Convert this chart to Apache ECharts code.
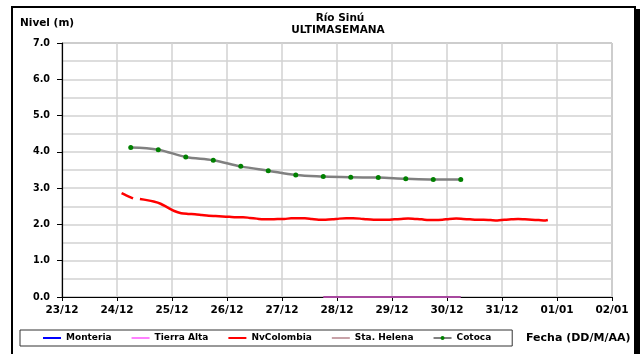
<!DOCTYPE html>
<html>
<head>
<meta charset="utf-8">
<title>Río Sinú - Nivel</title>
<script src="https://cdn.jsdelivr.net/npm/echarts@6/dist/echarts.min.js"></script>
<style>
  html, body { margin: 0; padding: 0; background: #fff; }
  #chart { width: 642px; height: 354px; }
</style>
</head>
<body>
<div id="chart"></div>
<script>
// Day labels along the time axis (one tick per day, 23/12 .. 02/01)
var xTickLabels = ['23/12', '24/12', '25/12', '26/12', '27/12', '28/12', '29/12', '30/12', '31/12', '01/01', '02/01'];
var yTickLabels = ['0.0', '1.0', '2.0', '3.0', '4.0', '5.0', '6.0', '7.0'];

var seriesNames = ['Monteria', 'Tierra Alta', 'NvColombia', 'Sta. Helena', 'Cotoca'];

// Station readings: times as "DD/MM HH:MM", levels in metres (null = missing reading)
var monteriaTimes = [];
var monteriaLevels = [];

var tierraAltaTimes = ['27/12 18:00', '28/12 06:00', '28/12 18:00', '29/12 06:00', '29/12 18:00', '30/12 06:00'];
var tierraAltaLevels = [0, 0, 0, 0, 0, 0];

var nvColombiaTimes = [
  '24/12 02:00', '24/12 04:00', '24/12 07:00', '24/12 08:00', '24/12 10:00', '24/12 13:00', '24/12 16:00', '24/12 19:00', '24/12 22:00',
  '25/12 01:00', '25/12 04:00', '25/12 07:00', '25/12 10:00', '25/12 13:00', '25/12 16:00', '25/12 19:00', '25/12 22:00',
  '26/12 01:00', '26/12 04:00', '26/12 07:00', '26/12 10:00', '26/12 13:00', '26/12 16:00', '26/12 19:00', '26/12 22:00',
  '27/12 01:00', '27/12 04:00', '27/12 07:00', '27/12 10:00', '27/12 13:00', '27/12 16:00', '27/12 19:00', '27/12 22:00',
  '28/12 01:00', '28/12 04:00', '28/12 07:00', '28/12 10:00', '28/12 13:00', '28/12 16:00', '28/12 19:00', '28/12 22:00',
  '29/12 01:00', '29/12 04:00', '29/12 07:00', '29/12 10:00', '29/12 13:00', '29/12 16:00', '29/12 19:00', '29/12 22:00',
  '30/12 01:00', '30/12 04:00', '30/12 07:00', '30/12 10:00', '30/12 13:00', '30/12 16:00', '30/12 19:00', '30/12 22:00',
  '31/12 01:00', '31/12 04:00', '31/12 07:00', '31/12 10:00', '31/12 13:00', '31/12 16:00', '31/12 19:00', '31/12 20:00'
];
var nvColombiaLevels = [
  2.86, 2.80, 2.72, null, 2.70, 2.67, 2.63, 2.57, 2.47,
  2.37, 2.31, 2.29, 2.28, 2.26, 2.24, 2.23, 2.22,
  2.21, 2.20, 2.20, 2.18, 2.16, 2.14, 2.14, 2.15,
  2.15, 2.17, 2.17, 2.17, 2.15, 2.13, 2.13, 2.14,
  2.16, 2.17, 2.17, 2.16, 2.14, 2.13, 2.13, 2.13,
  2.14, 2.15, 2.16, 2.15, 2.14, 2.12, 2.12, 2.13,
  2.15, 2.16, 2.15, 2.14, 2.13, 2.13, 2.12, 2.11,
  2.13, 2.14, 2.15, 2.14, 2.13, 2.12, 2.11, 2.12
];

var staHelenaTimes = [];
var staHelenaLevels = [];

var cotocaTimes = [
  '24/12 06:00', '24/12 18:00', '25/12 06:00', '25/12 18:00', '26/12 06:00', '26/12 18:00', '27/12 06:00',
  '27/12 18:00', '28/12 06:00', '28/12 18:00', '29/12 06:00', '29/12 18:00', '30/12 06:00'
];
var cotocaLevels = [4.12, 4.06, 3.86, 3.77, 3.60, 3.48, 3.36, 3.32, 3.30, 3.29, 3.26, 3.24, 3.24];

// Days elapsed since 23/12 00:00 for a "DD/MM HH:MM" stamp
function dayOffset(stamp) {
  var parts = stamp.split(' ');
  var dm = parts[0].split('/');
  var hm = parts[1].split(':');
  var day = parseInt(dm[0], 10);
  var month = parseInt(dm[1], 10);
  var days = month === 12 ? day - 23 : (31 - 23) + day;
  return days + (parseInt(hm[0], 10) + parseInt(hm[1], 10) / 60) / 24;
}

function pairs(times, levels) {
  return times.map(function (t, i) { return [dayOffset(t), levels[i]]; });
}

var FONT = '"DejaVu Sans", sans-serif';
// legend entries for plain lines: hide the marker, keep only the stroke
var NO_MARK = { color: 'rgba(0,0,0,0)', borderColor: 'rgba(0,0,0,0)', borderWidth: 0 };

var chart = echarts.init(document.getElementById('chart'), null, { renderer: 'canvas' });

chart.setOption({
  animation: false,
  backgroundColor: '#ffffff',
  textStyle: { fontFamily: FONT },
  grid: {
    left: 62, right: 30, top: 43, bottom: 57,
    show: true, borderColor: '#808080', borderWidth: 1
  },
  xAxis: {
    type: 'value',
    min: 0, max: xTickLabels.length - 1, interval: 1,
    axisLine: { onZero: false, lineStyle: { color: '#000', width: 1.2 } },
    axisTick: { show: true, length: 4, lineStyle: { color: '#000' } },
    axisLabel: {
      margin: 8,
      fontFamily: FONT, fontWeight: 'bold', fontSize: 10.5, color: '#000',
      formatter: function (v) { return xTickLabels[Math.round(v)] || ''; }
    },
    splitLine: { show: true, lineStyle: { color: '#d2d2d2', width: 1.5 } }
  },
  yAxis: {
    type: 'value',
    min: 0, max: yTickLabels.length - 1, interval: 1,
    axisLine: { show: true, lineStyle: { color: '#000', width: 1.2 } },
    axisTick: { show: true, length: 5, lineStyle: { color: '#000' } },
    axisLabel: {
      margin: 12,
      fontFamily: FONT, fontWeight: 'bold', fontSize: 9.6, color: '#000',
      formatter: function (v) { return yTickLabels[Math.round(v)] || ''; }
    },
    splitLine: { show: true, lineStyle: { color: '#d2d2d2', width: 1.5 } },
    minorTick: { show: false, splitNumber: 2 },
    minorSplitLine: { show: true, lineStyle: { color: '#d2d2d2', width: 1.5 } }
  },
  legend: {
    left: 20, top: 330,
    padding: [2.5, 21, 2.5, 22],
    itemGap: 19,
    itemWidth: 18, itemHeight: 5,
    borderColor: '#333', borderWidth: 1,
    textStyle: { fontFamily: FONT, fontWeight: 'bold', fontSize: 9, color: '#000', lineHeight: 11 },
    data: [
      { name: 'Monteria', itemStyle: NO_MARK },
      { name: 'Tierra Alta', lineStyle: { color: '#ff80ff' }, itemStyle: NO_MARK },
      { name: 'NvColombia', itemStyle: NO_MARK },
      { name: 'Sta. Helena', itemStyle: NO_MARK },
      { name: 'Cotoca' }
    ]
  },
  graphic: [
    // outer frame of the chart area
    { type: 'rect', shape: { x: 12, y: 7, width: 623, height: 360 }, style: { fill: null, stroke: '#000', lineWidth: 2 }, silent: true },
    { type: 'rect', shape: { x: 634, y: 9, width: 6, height: 345 }, style: { fill: '#000' }, silent: true },
    { type: 'text', x: 340, y: 18, style: { text: 'Río Sinú', align: 'center', verticalAlign: 'middle', font: 'bold 10.5px ' + FONT, fill: '#000' } },
    { type: 'text', x: 338, y: 30, style: { text: 'ULTIMASEMANA', align: 'center', verticalAlign: 'middle', font: 'bold 10.5px ' + FONT, fill: '#000' } },
    { type: 'text', x: 20, y: 23, style: { text: 'Nivel (m)', align: 'left', verticalAlign: 'middle', font: 'bold 10.5px ' + FONT, fill: '#000' } },
    { type: 'text', x: 526, y: 338, style: { text: 'Fecha (DD/M/AA)', align: 'left', verticalAlign: 'middle', font: 'bold 11px ' + FONT, fill: '#000' } }
  ],
  series: [
    {
      name: seriesNames[0], type: 'line', data: pairs(monteriaTimes, monteriaLevels),
      symbol: 'none', color: '#0000ff', lineStyle: { color: '#0000ff', width: 2.5 }
    },
    {
      name: seriesNames[1], type: 'line', data: pairs(tierraAltaTimes, tierraAltaLevels),
      symbol: 'none', color: '#a8489f', lineStyle: { color: '#a8489f', width: 2 }, z: 3
    },
    {
      name: seriesNames[2], type: 'line', data: pairs(nvColombiaTimes, nvColombiaLevels),
      symbol: 'none', smooth: 0.3, connectNulls: false,
      color: '#ff0000', lineStyle: { color: '#ff0000', width: 2.5 }
    },
    {
      name: seriesNames[3], type: 'line', data: pairs(staHelenaTimes, staHelenaLevels),
      symbol: 'none', color: '#c8a2a8', lineStyle: { color: '#c8a2a8', width: 2.5 }
    },
    {
      name: seriesNames[4], type: 'line', data: pairs(cotocaTimes, cotocaLevels),
      smooth: 0.35, symbol: 'circle', symbolSize: 5,
      itemStyle: { color: '#008000' },
      lineStyle: { color: '#808080', width: 2.5 }
    }
  ]
});
</script>
</body>
</html>
